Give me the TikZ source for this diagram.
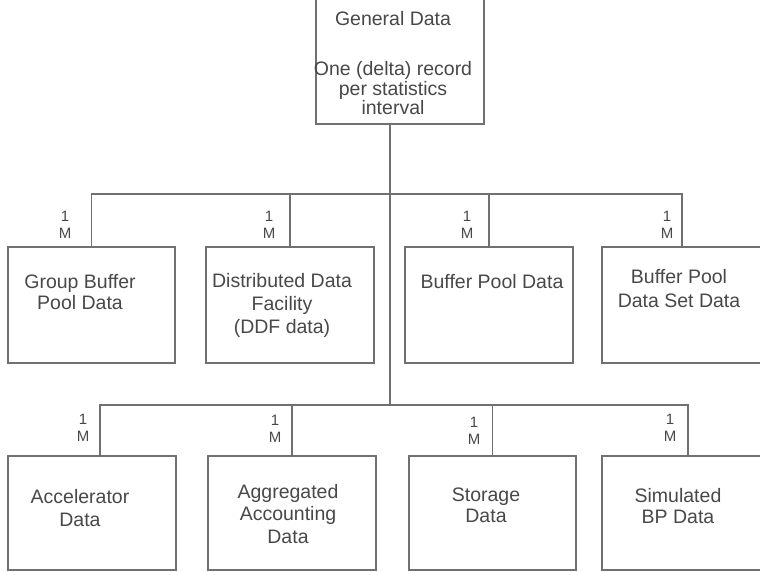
\documentclass[tikz,border=0pt]{standalone}
\usepackage{fontspec}
\setmainfont{Liberation Sans}
\definecolor{linecol}{RGB}{112,112,112}
\definecolor{txtcol}{RGB}{72,72,72}
\tikzset{
  ln/.style={draw=linecol, line width=1.6pt},
  box/.style={draw=linecol, line width=1.6pt, anchor=north west, inner sep=0pt, minimum height=116pt},
  txt/.style={anchor=north, inner sep=0pt, align=center, text=txtcol},
  card/.style={anchor=south, inner sep=0pt, align=center, text=txtcol, font=\fontsize{15}{17}\selectfont},
}
\begin{document}
\begin{tikzpicture}[x=1pt,y=-1pt]
\clip (0,0) rectangle (760,571);
\fill[white] (0,0) rectangle (760,571);
% top box
\node[box, minimum width=168pt, minimum height=127pt] (g) at (315,-4) {};
\node[txt, font=\fontsize{19.5}{19.5}\selectfont] (gt) at (393,11) {General Data\\[31pt]One (delta) record\\per statistics\\interval};
% row 1 boxes
\node[box, minimum width=167pt] (b1) at (7,246) {};
\node[box, minimum width=168pt] (b2) at (205,246) {};
\node[box, minimum width=168pt] (b3) at (404,246) {};
\node[box, minimum width=160pt] (b4) at (601,246) {};
% row 2 boxes
\node[box, minimum width=168pt, minimum height=114pt] (b5) at (7,455) {};
\node[box, minimum width=168pt, minimum height=114pt] (b6) at (207,455) {};
\node[box, minimum width=167pt, minimum height=114pt] (b7) at (408,455) {};
\node[box, minimum width=172pt, minimum height=114pt] (b8) at (601,455) {};
% texts
\node[txt, font=\fontsize{19.5}{21.5}\selectfont] (t1) at (80,274) {Group Buffer\\Pool Data};
\node[txt, font=\fontsize{19.5}{23}\selectfont] (t2) at (282,273) {Distributed Data\\Facility\\(DDF data)};
\node[txt, font=\fontsize{19.5}{22}\selectfont] (t3) at (492,274) {Buffer Pool Data};
\node[txt, font=\fontsize{19.5}{24}\selectfont] (t4) at (679,269) {Buffer Pool\\Data Set Data};
\node[txt, font=\fontsize{19.5}{23}\selectfont] (t5) at (80,489) {Accelerator\\Data};
\node[txt, font=\fontsize{19.5}{22.5}\selectfont] (t6) at (288,484) {Aggregated\\Accounting\\Data};
\node[txt, font=\fontsize{19.5}{21}\selectfont] (t7) at (486,488) {Storage\\Data};
\node[txt, font=\fontsize{19.5}{21}\selectfont] (t8) at (678,488) {Simulated\\BP Data};
% buses
\coordinate (bus1) at (390,194);
\coordinate (bus2) at (390,405);
\draw[ln] (bus2 |- g.south) -- (bus2);
\draw[ln] (b1.north) |- (bus1) -| (b4.north);
\draw[ln] (b2.north) -- (b2.north |- bus1);
\draw[ln] (b3.north) -- (b3.north |- bus1);
\draw[ln] ([xshift=8pt]b5.north) |- (bus2) -| (b8.north);
\draw[ln] (b6.north) -- (b6.north |- bus2);
\draw[ln] (b7.north) -- (b7.north |- bus2);
% cardinalities
\node[card] (c1) at (65,239) {1\\M};
\node[card] (c2) at (269,239) {1\\M};
\node[card] (c3) at (467,239) {1\\M};
\node[card] (c4) at (667,239) {1\\M};
\node[card] (c5) at (83,442) {1\\M};
\node[card] (c6) at (275,443) {1\\M};
\node[card] (c7) at (474,445) {1\\M};
\node[card] (c8) at (670,442) {1\\M};
\end{tikzpicture}
\end{document}
